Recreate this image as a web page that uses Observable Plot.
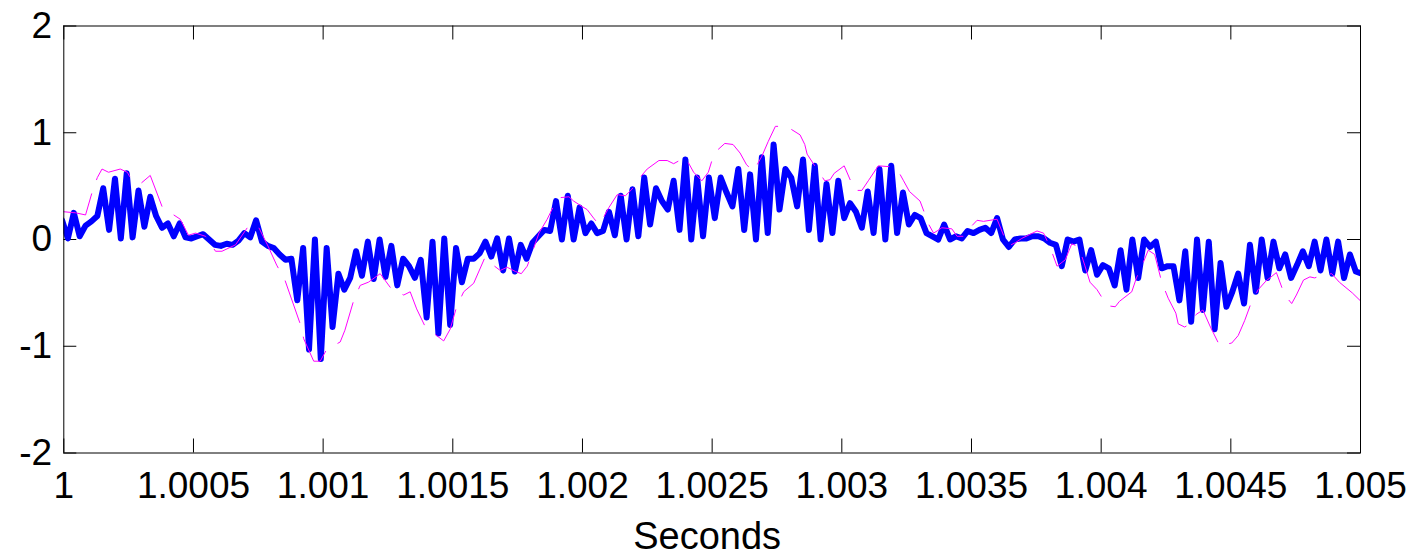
<!DOCTYPE html>
<html>
<head>
<meta charset="utf-8">
<script src="https://cdn.jsdelivr.net/npm/d3@7"></script>
<script src="https://cdn.jsdelivr.net/npm/@observablehq/plot@0.6"></script>
<style>
  html, body { margin: 0; padding: 0; background: #fff; }
</style>
</head>
<body>
<div id="chart"></div>
<script>
// ---- data ----
const fs = 44100;            // samples per second
const blueStart = -0.3;      // position of first sample, in samples, relative to t = 1 s

const blueValues = [
  0.18, 0.01, 0.25, 0.03, 0.13, 0.17, 0.22, 0.48, 0.09, 0.57,
  0.01, 0.62, 0.02, 0.46, 0.12, 0.40, 0.22, 0.11, 0.15, 0.03,
  0.15, 0.02, 0.01, 0.03, 0.05, 0.00, -0.05, -0.06, -0.04, -0.05,
  -0.01, 0.06, 0.02, 0.18, -0.02, -0.06, -0.08, -0.14, -0.19, -0.18,
  -0.57, -0.08, -1.03, 0.00, -1.12, -0.08, -0.82, -0.32, -0.47, -0.36,
  -0.11, -0.34, -0.02, -0.37, 0.00, -0.35, -0.06, -0.43, -0.18, -0.25,
  -0.36, -0.19, -0.73, -0.02, -0.88, 0.01, -0.80, -0.08, -0.40, -0.18,
  -0.18, -0.13, -0.02, -0.16, 0.01, -0.29, 0.01, -0.30, -0.05, -0.18,
  -0.03, 0.03, 0.09, 0.08, 0.36, 0.00, 0.41, 0.00, 0.30, 0.06,
  0.15, 0.06, 0.08, 0.26, 0.04, 0.41, 0.00, 0.47, 0.03, 0.58,
  0.14, 0.48, 0.36, 0.28, 0.55, 0.09, 0.75, 0.00, 0.58, 0.03,
  0.58, 0.20, 0.58, 0.44, 0.31, 0.66, 0.09, 0.61, 0.00, 0.77,
  0.06, 0.89, 0.28, 0.66, 0.58, 0.31, 0.75, 0.09, 0.69, 0.00,
  0.52, 0.06, 0.55, 0.20, 0.34, 0.26, 0.11, 0.45, 0.06, 0.66,
  0.00, 0.69, 0.06, 0.44, 0.14, 0.23, 0.20, 0.06, 0.03, 0.00,
  0.14, 0.00, 0.03, 0.01, 0.08, 0.06, 0.09, 0.11, 0.06, 0.20,
  0.00, -0.07, 0.00, 0.01, 0.01, 0.03, 0.03, 0.01, -0.03, -0.05,
  -0.25, 0.00, -0.02, 0.00, -0.29, -0.10, -0.33, -0.24, -0.27, -0.43,
  -0.10, -0.47, 0.00, -0.36, 0.00, -0.07, -0.02, -0.27, -0.25, -0.25,
  -0.57, -0.11, -0.77, 0.00, -0.66, -0.02, -0.84, -0.22, -0.63, -0.49,
  -0.32, -0.60, -0.05, -0.49, 0.00, -0.36, -0.02, -0.27, -0.14, -0.36,
  -0.24, -0.11, -0.25, -0.02, -0.29, 0.00, -0.32, -0.02, -0.36, -0.14,
  -0.30, -0.32
];

// magenta dashed envelope: positions (in samples after t = 1 s) and values
const envSamples = [
  0, 2, 3.7, 4.8, 5.7, 6.5, 7.6, 9.6, 10.8, 11.6,
  13.2, 14.7, 16.7, 18.7, 19.8, 21.2, 22.4, 24.1, 25.8, 26.9,
  29.2, 31.2, 32.9, 34.8, 36.2, 37.6, 40.2, 40.8, 42.5, 43.6,
  44.7, 47, 47.8, 49.3, 50.4, 51.8, 53.8, 55.8, 57.8, 58.9,
  60, 61.4, 63.4, 64.6, 65.7, 66.8, 68, 69.7, 71.6, 72.3,
  74.2, 75.4, 76.8, 77.8, 78.8, 79.6, 80.8, 82.2, 83, 84,
  85.9, 86.7, 88.1, 89, 90.1, 91, 91.4, 92.7, 94.1, 95.5,
  96.6, 97.5, 99.2, 101.2, 102.6, 103.7, 105.7, 107.1, 108.5, 109.6,
  110.6, 112.4, 113.8, 115, 116.1, 117.3, 118.7, 119.8, 121, 122.9,
  125.2, 126, 126.4, 127.7, 129.4, 130.3, 131, 132.7, 134.5, 135.7,
  136.8, 138.5, 141, 141.9, 142.8, 143.8, 145.6, 147.1, 147.9, 148.5,
  149.3, 151, 151.9, 153, 154.1, 155.3, 156.4, 158.7, 159.8, 160.7,
  161.8, 162.9, 165.5, 166.6, 167.7, 168.9, 170.3, 171.4, 172.6, 173.6,
  174.5, 175.7, 177.4, 178.8, 179.5, 181.6, 182.4, 183.6, 184.4, 185.5,
  186.7, 187.8, 189.1, 189.5, 190.6, 191.5, 192.6, 193.7, 194.9, 196.6,
  197.7, 198.6, 199.7, 200.8, 202, 203.1, 204.4, 206.2, 207.6, 208.8,
  209.6, 210.8, 211.9, 212.7, 214.2, 215.6, 216.9, 219.1, 220.4
];
const envValues = [
  0.26, 0.25, 0.23, 0.44, 0.58, 0.66, 0.63, 0.66, 0.63, 0.55,
  0.53, 0.60, 0.31, 0.23, 0.19, 0.04, 0.06, 0.03, -0.11, -0.11,
  -0.05, 0.11, 0.14, -0.07, -0.24, -0.38, -0.79, -0.93, -1.14, -1.14,
  -1.03, -0.96, -0.85, -0.57, -0.43, -0.40, -0.32, -0.47, -0.52, -0.49,
  -0.65, -0.81, -0.90, -0.95, -0.84, -0.63, -0.49, -0.41, -0.17, -0.21,
  -0.29, -0.26, -0.30, -0.32, -0.25, -0.13, 0.06, 0.19, 0.28, 0.39,
  0.40, 0.36, 0.31, 0.28, 0.20, 0.14, 0.17, 0.30, 0.42, 0.41,
  0.47, 0.55, 0.66, 0.74, 0.74, 0.71, 0.77, 0.63, 0.55, 0.63,
  0.81, 0.90, 0.89, 0.81, 0.70, 0.64, 0.78, 0.92, 1.06, 1.06,
  0.98, 0.89, 0.80, 0.69, 0.55, 0.56, 0.62, 0.69, 0.46, 0.46,
  0.55, 0.69, 0.68, 0.64, 0.55, 0.45, 0.36, 0.14, 0.06, 0.08,
  0.11, 0.10, 0.03, 0.03, 0.11, 0.18, 0.17, 0.19, 0.04, -0.06,
  -0.03, 0.01, 0.08, 0.06, -0.07, -0.25, -0.19, -0.04, -0.07, -0.24,
  -0.40, -0.47, -0.62, -0.63, -0.58, -0.49, -0.36, -0.21, -0.10, -0.14,
  -0.40, -0.55, -0.69, -0.79, -0.82, -0.79, -0.70, -0.66, -0.81, -1.00,
  -0.98, -0.97, -0.90, -0.76, -0.58, -0.47, -0.39, -0.31, -0.52, -0.60,
  -0.52, -0.38, -0.35, -0.36, -0.33, -0.32, -0.40, -0.50, -0.57
];

const xTicks = [1, 1.0005, 1.001, 1.0015, 1.002, 1.0025, 1.003, 1.0035, 1.004, 1.0045, 1.005];
const xTickLabels = ["1", "1.0005", "1.001", "1.0015", "1.002", "1.0025", "1.003", "1.0035", "1.004", "1.0045", "1.005"];
const yTicks = [-2, -1, 0, 1, 2];
const yTickLabels = ["-2", "-1", "0", "1", "2"];
const xLabel = "Seconds";

// ---- build ----
const blue = blueValues.map((v, j) => ({t: 1 + (j + blueStart) / fs, v}));
const env = envSamples.map((s, k) => ({t: 1 + s / fs, v: envValues[k]}));
const xLab = new Map(xTicks.map((d, i) => [d, xTickLabels[i]]));
const yLab = new Map(yTicks.map((d, i) => [d, yTickLabels[i]]));

const W = 1416, H = 555;
const mL = 63.3, mR = 56, mT = 25.5, mB = 102.5;
const innerW = W - mL - mR, innerH = H - mT - mB;
const xTickLen = 14, yTickLen = 13;

const chart = Plot.plot({
  width: W,
  height: H,
  marginLeft: mL,
  marginRight: mR,
  marginTop: mT,
  marginBottom: mB,
  style: {fontFamily: '"Liberation Sans", Arial, sans-serif', background: "#fff", color: "#000"},
  x: {domain: [1, 1.005]},
  y: {domain: [-2, 2]},
  marks: [
    Plot.axisX({ticks: xTicks, tickFormat: d => xLab.get(d), tickSize: 0, tickPadding: 18.5, fontSize: 37, label: null}),
    Plot.axisY({ticks: yTicks, tickFormat: d => yLab.get(d), tickSize: 0, tickPadding: 11.6, fontSize: 37, label: null}),
    // inward ticks (bottom, top, left, right)
    Plot.ruleX(xTicks, {x: d => d, insetTop: innerH - xTickLen, stroke: "#000", strokeWidth: 1}),
    Plot.ruleX(xTicks, {x: d => d, insetBottom: innerH - xTickLen, stroke: "#000", strokeWidth: 1}),
    Plot.ruleY(yTicks, {y: d => d, insetRight: innerW - yTickLen, stroke: "#000", strokeWidth: 1}),
    Plot.ruleY(yTicks, {y: d => d, insetLeft: innerW - yTickLen, stroke: "#000", strokeWidth: 1}),
    Plot.line(blue, {x: "t", y: "v", stroke: "#0000ff", strokeWidth: 6, strokeLinejoin: "round", strokeLinecap: "round", clip: true}),
    Plot.line(env, {x: "t", y: "v", stroke: "#ff00ff", strokeWidth: 1, strokeDasharray: "44,15", clip: true}),
    Plot.frame({stroke: "#000", strokeWidth: 1}),
    Plot.text([xLabel], {text: d => d, frameAnchor: "bottom", lineAnchor: "bottom", dy: 95.5, dx: -5, fontSize: 38, fill: "#000"})
  ]
});
document.getElementById("chart").appendChild(chart);
</script>
</body>
</html>
